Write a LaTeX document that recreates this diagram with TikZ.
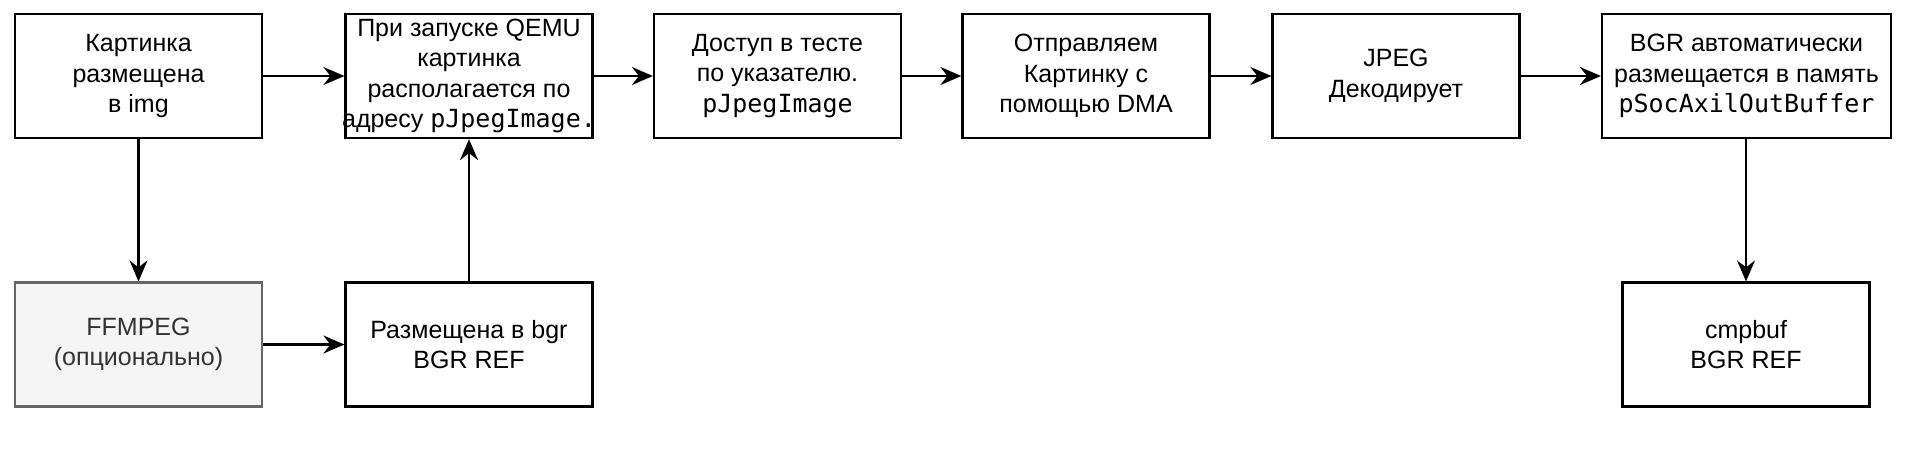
\documentclass[tikz,border=0pt]{standalone}
\usepackage{fontspec}
\setmainfont{Liberation Sans}
\setmonofont{DejaVu Sans Mono}
\usetikzlibrary{arrows.meta}
\begin{document}
\begin{tikzpicture}[x=0.5pt,y=-0.5pt,
  box/.style={draw=black, line width=1.1pt, minimum width=123.5pt, minimum height=62pt,
    inner sep=0pt, align=center, font=\fontsize{12.5}{15.2}\selectfont},
  greybox/.style={box, draw=black!60, fill=black!4, text=black!80},
  arr/.style={line width=1.1pt, -{Stealth[length=10.5pt,width=9pt,inset=3.5pt]}}]
\useasboundingbox (0,0) rectangle (1920,452);
\node[box] (img) at (138.5,76) {Картинка\\размещена\\в img};
\node[box] (qemu) at (469,76) {При запуске QEMU\\картинка\\располагается по\\\makebox[118pt][c]{адресу \texttt{pJpegImage.}}};
\node[box] (test) at (777.5,76) {Доступ в тесте\\по указателю.\\\texttt{pJpegImage}};
\node[box] (dma) at (1086,76) {Отправляем\\Картинку с\\помощью DMA};
\node[box] (jpeg) at (1396,76) {JPEG\\Декодирует};
\node[box, minimum width=144.5pt] (bgr) at (1746.5,76) {BGR автоматически\\размещается в память\\\texttt{pSocAxilOutBuffer}};
\node[greybox] (ff) at (138.5,344.5) {FFMPEG\\(опционально)};
\node[box] (ref) at (469,344.5) {Размещена в bgr\\BGR REF};
\node[box] (cmp) at (1746,344.5) {cmpbuf\\BGR REF};
\draw[arr] (img) -- (qemu);
\draw[arr] (qemu) -- (test);
\draw[arr] (test) -- (dma);
\draw[arr] (dma) -- (jpeg);
\draw[arr] (jpeg) -- (bgr);
\draw[arr] (img) -- (ff);
\draw[arr] (ff) -- (ref);
\draw[arr] (ref) -- (qemu);
\draw[arr] (bgr.south -| cmp) -- (cmp);
\end{tikzpicture}
\end{document}
